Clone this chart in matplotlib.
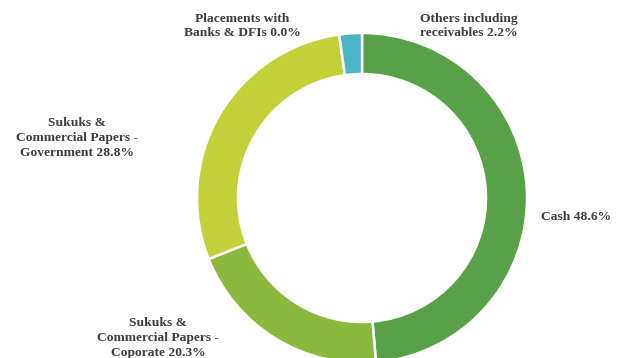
import matplotlib
matplotlib.use('Agg')
import matplotlib.pyplot as plt

# 资产配置
categories = ['Cash', 'Sukuks &\nCommercial Papers -\nCoporate',
              'Sukuks &\nCommercial Papers -\nGovernment',
              'Placements with\nBanks & DFIs', 'Others including\nreceivables']
shares = [48.6, 20.3, 28.8, 0.0, 2.2]
colors = ['#58a149', '#8bb93e', '#c3d03a', '#9fc43c', '#48b4c6']

# 标签位置（像素坐标，原点在左上）
label_pos = [(576, 217), (158, 338), (77, 138), (242, 26), (469, 26)]

W, H = 620, 358
fig = plt.figure(figsize=(W / 100, H / 100), dpi=100)
ax = fig.add_axes([0, 0, 1, 1])
ax.set_xlim(0, W)
ax.set_ylim(0, H)
ax.set_aspect('equal')
ax.axis('off')

cx, cy, r = 362, 198, 165
ax.pie(shares, colors=colors, startangle=90, counterclock=False,
       radius=r, center=(cx, H - cy), normalize=True,
       wedgeprops=dict(width=41, edgecolor='white', linewidth=1.8))
ax.set_xlim(0, W)
ax.set_ylim(0, H)

for name, v, (x, y) in zip(categories, shares, label_pos):
    ax.text(x, H - y, f'{name} {v:.1f}%', ha='center', va='center',
            fontsize=9.7, fontweight='bold', family='Liberation Serif',
            color='#3d3d3d', linespacing=1.3)

plt.savefig('out.png', dpi=100)
plt.close()
